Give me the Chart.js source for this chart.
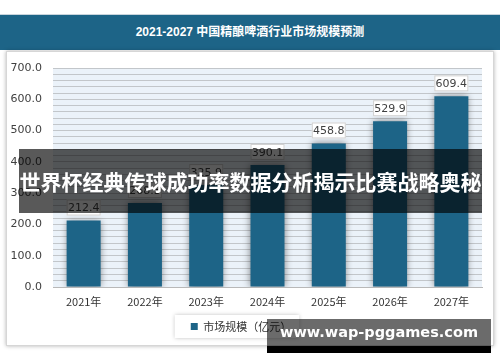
<!DOCTYPE html>
<html>
<head>
<meta charset="utf-8">
<script src="https://cdn.jsdelivr.net/npm/chart.js@4"></script>
<style>
  body { margin: 0; width: 500px; height: 362px; background: #fff; position: relative; overflow: hidden; font-family: "Noto Sans CJK SC", "Noto Sans", sans-serif; }
  #band { position: absolute; left: 0; top: 14px; width: 500px; height: 35px; background: #1d6487; border-top: 1px solid #c8d4dc;
          color: #fff; font: bold 12px "Liberation Sans", "Noto Sans CJK SC", sans-serif; text-align: center; line-height: 35px; }
  #panel { position: absolute; left: 6px; top: 51px; width: 486px; height: 293px; background: #fff; border: 1px solid #d6d6d6; box-shadow: 0 0 4px rgba(0,0,0,0.3); }
  #wrap { position: absolute; left: 0; top: 0; width: 500px; height: 362px; }
  #banner { position: absolute; left: 19px; top: 149px; width: 463px; height: 64px; background: rgba(0,0,0,0.65);
            color: #fff; font: bold 21px "Noto Sans CJK SC", sans-serif; text-align: center; line-height: 64px; white-space: nowrap; }
  #wm { position: absolute; left: 267px; top: 319px; width: 224px; height: 27px; background: rgba(0,0,0,0.58); border-bottom: 7px solid #000;
        color: #fff; font: bold 14.5px "DejaVu Sans", sans-serif; text-align: center; line-height: 27px; white-space: nowrap; }
</style>
</head>
<body>
<div id="band">2021-2027 中国精酿啤酒行业市场规模预测</div>
<div id="panel"></div>
<div id="wrap"><canvas id="myChart" width="500" height="362"></canvas></div>
<div id="banner">世界杯经典传球成功率数据分析揭示比赛战略奥秘</div>
<div id="wm">www.wap-pggames.com</div>
<script>
// datos
const years = ["2021年", "2022年", "2023年", "2024年", "2025年", "2026年", "2027年"];
const marketSize = [212.4, 268.3, 325.9, 390.1, 458.8, 529.9, 609.4];
const seriesName = "市场规模（亿元）";

// fondo del área de trazado y marco de la leyenda
const plotBg = {
    id: "plotBg",
    beforeDraw(chart) {
        const a = chart.chartArea, c = chart.ctx;
        c.save();
        c.fillStyle = "#ebf2f9";
        c.fillRect(a.left, a.top, a.right - a.left, a.bottom - a.top);
        const hb = chart.legend.legendHitBoxes[0];
        if (hb) {
            c.shadowColor = "rgba(0,0,0,0.25)";
            c.shadowBlur = 4;
            c.fillStyle = "#fff";
            c.fillRect(hb.left - 16, hb.top - 6, hb.width + 24, hb.height + 12);
        }
        c.restore();
    },
    beforeDatasetsDraw(chart) {
        chart.ctx.save();
        chart.ctx.shadowColor = "rgba(0,0,0,0.45)";
        chart.ctx.shadowBlur = 7;
    },
    afterDatasetsDraw(chart) {
        chart.ctx.restore();
    }
};

// etiquetas de valor encima de cada barra
const valueLabels = {
    id: "valueLabels",
    afterDatasetsDraw(chart) {
        const c = chart.ctx;
        const meta = chart.getDatasetMeta(0);
        c.save();
        c.font = "11px 'DejaVu Sans', sans-serif";
        c.textAlign = "center";
        c.textBaseline = "middle";
        meta.data.forEach((bar, i) => {
            const w = 34, h = 16;
            const x = bar.x - w / 2, y = bar.y - 5 - h;
            c.fillStyle = "#fff";
            c.fillRect(x, y, w, h);
            c.strokeStyle = "#d0d0d0";
            c.lineWidth = 1;
            c.strokeRect(x + 0.5, y + 0.5, w - 1, h - 1);
            c.fillStyle = "#404040";
            c.fillText(marketSize[i].toFixed(1), bar.x, y + h / 2 + 1);
        });
        c.restore();
    }
};

new Chart(document.getElementById("myChart").getContext("2d"), {
    type: "bar",
    data: {
        labels: years,
        datasets: [{
            label: seriesName,
            data: marketSize,
            backgroundColor: "#1d6487",
            borderColor: "#1d6487",
            borderWidth: 0,
            categoryPercentage: 1,
            barPercentage: 0.555
        }]
    },
    options: {
        responsive: false,
        animation: false,
        layout: { padding: { top: 68, right: 18, bottom: 20, left: 0 } },
        scales: {
            x: {
                afterFit(s) { s.height = 22; },
                grid: { display: false },
                border: { color: "#b8b8b8" },
                ticks: { color: "#333", font: { size: 11, family: "'Noto Sans CJK SC', sans-serif" }, padding: 0 }
            },
            y: {
                min: 0,
                max: 700,
                afterFit(s) { s.width = 53; },
                grid: { color: "#c2c6ca", drawTicks: false },
                border: { display: false },
                ticks: {
                    stepSize: 20,
                    autoSkip: false,
                    padding: 11,
                    color: "#404040",
                    font: { size: 11, family: "'DejaVu Sans', sans-serif" },
                    callback: v => (v % 100 === 0 ? v.toFixed(1) : "")
                }
            }
        },
        plugins: {
            legend: {
                display: true,
                position: "bottom",
                labels: { boxWidth: 7, boxHeight: 7, color: "#333", font: { size: 11, family: "'Noto Sans CJK SC', sans-serif" }, padding: 12 }
            },
            title: { display: false },
            tooltip: { enabled: false }
        }
    },
    plugins: [plotBg, valueLabels]
});
</script>
</body>
</html>
